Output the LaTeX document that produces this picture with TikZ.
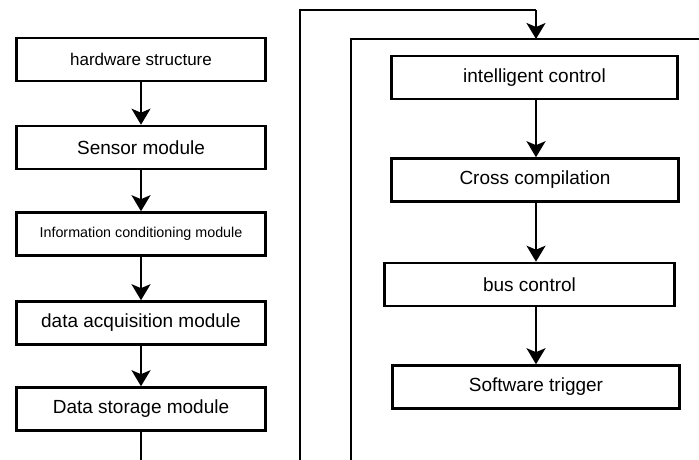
\documentclass[tikz,border=0pt]{standalone}
\usepackage{fontspec}
\setmainfont{Liberation Sans}
\usetikzlibrary{arrows.meta}

\tikzset{
    modbox/.style={draw, line width=2.6pt, inner sep=0pt, minimum height=43pt,
        font=\fontsize{19}{22}\selectfont},
    flowarrow/.style={line width=2pt, -{Stealth[width=19pt, length=16pt, inset=4pt]}},
    frameline/.style={line width=2.6pt}
}

\begin{document}
\begin{tikzpicture}[x=1pt, y=-1pt]
    \useasboundingbox (0, 0) rectangle (699, 459);
    \clip (0, 0) rectangle (699, 459);
    \begin{scope}
        % Hardware chain
        \node[modbox, minimum width=249pt, font=\fontsize{17}{20}\selectfont] (hw) at (141, 59.5) {hardware structure};
        \node[modbox, minimum width=249pt] (sensor) at (141, 147.5) {Sensor module};
        \node[modbox, minimum width=249pt, font=\fontsize{14.3}{17}\selectfont] (infocond) at (141, 234) {Information conditioning module};
        \node[modbox, minimum width=249pt] (daq) at (141, 323) {data acquisition module};
        \node[modbox, minimum width=249pt] (storage) at (141, 409) {Data storage module};
        \draw[flowarrow] (hw.south) -- (sensor.north);
        \draw[flowarrow] (sensor.south) -- (infocond.north);
        \draw[flowarrow] (infocond.south) -- (daq.north);
        \draw[flowarrow] (daq.south) -- (storage.north);
        \coordinate (storageout) at (141, 470);
        \draw[line width=2pt] (storage.south) -- (storageout);
        % Software frame
        \coordinate (loopin) at (300, 470);
        \coordinate (loopcorner) at (300, 10);
        \coordinate (frametl) at (351, 39);
        \coordinate (framebr) at (720, 480);
        \draw[frameline] (frametl) rectangle (framebr);
        \coordinate (frametop) at (536, 39);
        \draw[frameline] (loopin) -- (loopcorner) -- (loopcorner -| frametop);
        \draw[flowarrow] (loopcorner -| frametop) -- (frametop);
        % Software chain
        \node[modbox, minimum width=286pt] (intctrl) at (534.5, 77.5) {intelligent control};
        \node[modbox, minimum width=287pt] (crosscomp) at (535, 180) {Cross compilation};
        \node[modbox, minimum width=290pt] (busctrl) at (529.5, 284.5) {bus control};
        \node[modbox, minimum width=287pt] (swtrig) at (536, 387) {Software trigger};
        \coordinate (swaxis) at (536, 0);
        \draw[flowarrow] (intctrl.south -| swaxis) -- (crosscomp.north -| swaxis);
        \draw[flowarrow] (crosscomp.south -| swaxis) -- (busctrl.north -| swaxis);
        \draw[flowarrow] (busctrl.south -| swaxis) -- (swtrig.north -| swaxis);
    \end{scope}
\end{tikzpicture}
\end{document}
